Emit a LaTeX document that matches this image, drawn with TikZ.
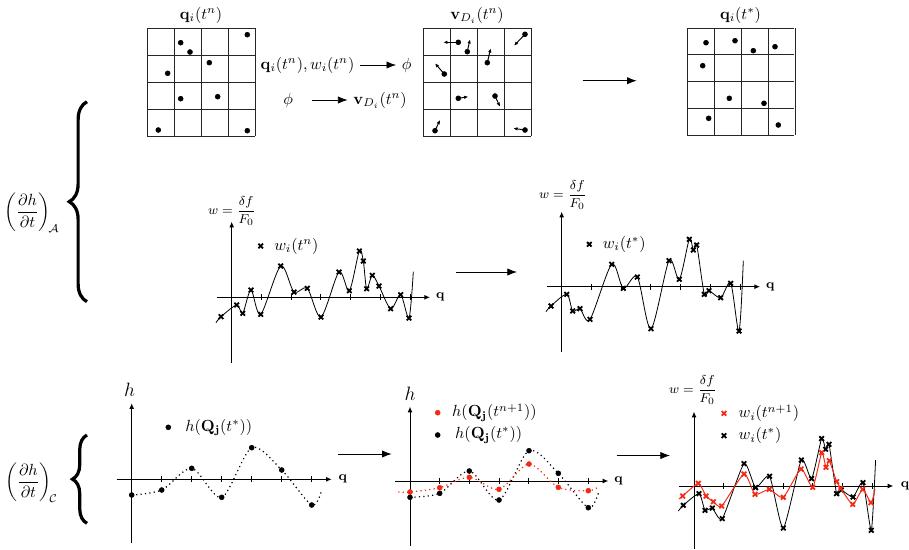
\documentclass[tikz,border=0pt]{standalone}
\usepackage{amsmath,amssymb}
\usepackage{xcolor}
\usepackage{tikz}
\usetikzlibrary{arrows.meta, calc, positioning, plotmarks, decorations.pathreplacing}
\definecolor{ptred}{RGB}{245,40,20}

\tikzset{
  cellgrid/.style={line width=0.6pt, black!85},
  axis/.style={line width=0.55pt, -{Latex[length=3.5pt,width=3pt]}},
  tick/.style={line width=0.5pt},
  wcurve/.style={line width=0.5pt},
  hcurve/.style={line width=0.75pt, dotted},
  xmarks/.style={only marks, mark=x, mark size=2pt, mark options={line width=1.1pt}},
  rxmarks/.style={only marks, mark=x, mark size=2pt, mark options={line width=1.1pt, ptred}},
  dots/.style={only marks, mark=*, mark size=1.5pt},
  rdots/.style={only marks, mark=*, mark size=1.5pt, mark options={ptred}},
  flow/.style={line width=0.5pt, -{Latex[length=6pt,width=4.5pt]}},
  vel/.style={line width=0.6pt, -{Latex[length=2.6pt,width=2.2pt]}},
  bigbrace/.style={decorate, line width=2pt},
  lbl/.style={font=\footnotesize},
}

\begin{document}
\begin{tikzpicture}[x=0.62pt, y=-0.62pt]
  \useasboundingbox (0,0) rectangle (909,549);

  % grids of particles
  \begin{scope}[shift={(147,28)}]
    \foreach \k in {0,...,4} {
      \draw[cellgrid] (27*\k,0) -- (27*\k,108);
      \draw[cellgrid] (0,27*\k) -- (108,27*\k);
    }
    \node (g1) at (54,-13) {$\mathbf{q}_i(t^n)$};
    \draw plot[dots] coordinates {(33.7,14.7) (43,24) (100.3,6.7) (62.3,34.7) (20.7,45.3)
      (33.7,70.7) (70.7,68.7) (11.3,102) (100.3,102.7)};
  \end{scope}

  \node (qw) at (307.5,65) {$\mathbf{q}_i(t^n), w_i(t^n)$};
  \node (phi1) at (406.7,65) {$\phi$};
  \node (phi2) at (288.3,100) {$\phi$};
  \node (vD) at (380,100) {$\mathbf{v}_{D_i}(t^n)$};
  \draw[flow] (qw) -- (phi1);
  \draw[flow, shorten <=8pt] (phi2) -- (vD);

  \begin{scope}[shift={(423,28)}]
    \foreach \k in {0,...,4} {
      \draw[cellgrid] (27*\k,0) -- (27*\k,108);
      \draw[cellgrid] (0,27*\k) -- (108,27*\k);
    }
    \node (g2) at (54,-13) {$\mathbf{v}_{D_i}(t^n)$};
    \foreach \px/\py/\tx/\ty in {35.3/14.3/20.3/14.3, 44.3/23.7/47/11.3, 102/6.3/91/17.7,
        64.3/34.7/67.7/20.3, 21.3/46/12/35.3, 35.3/70.3/45.3/68.7, 72/68/77/78.7,
        12/102.7/17/92, 102/102/90.3/100.3}
      \draw[vel] (\px,\py) -- (\tx,\ty);
    \draw plot[dots] coordinates {(35.3,14.3) (44.3,23.7) (102,6.3) (64.3,34.7) (21.3,46)
      (35.3,70.3) (72,68) (12,102.7) (102,102)};
  \end{scope}

  \coordinate (f1s) at (582.7,80.7);
  \coordinate (f1e) at (636.7,80.7);
  \draw[flow] (f1s) -- (f1e);

  \begin{scope}[shift={(687,28)}]
    \foreach \k in {0,...,4} {
      \draw[cellgrid] (27*\k,0) -- (27*\k,107);
      \draw[cellgrid] (0,26.75*\k) -- (107,26.75*\k);
    }
    \node (g3) at (53.5,-13) {$\mathbf{q}_i(t^*)$};
    \draw plot[dots] coordinates {(19,14.7) (48,12.7) (66.3,22.7) (88,18.7) (15.7,37.7)
      (42.3,70.3) (77,75.3) (21.7,90.3) (91.3,97)};
  \end{scope}

  % advection part
  \node (labA) at (32,213) {$\left(\dfrac{\partial h}{\partial t}\right)_{\!\mathcal{A}}$};
  \coordinate (bAb) at (87,301.7);
  \coordinate (bAt) at (87,101.7);
  \draw[bigbrace, decoration={brace, amplitude=11pt}] (bAb) -- (bAt);

  \begin{scope}[shift={(231.7,297.3)}]
    \draw[axis] (-15,0) -- (198.3,0);
    \draw[axis] (0,65.4) -- (0,-75.6);
    \foreach \k in {1,...,6} \draw[tick] (29.7*\k,-3) -- (29.7*\k,3);
    \node[lbl] (qa1) at (208.5,0) {$\mathbf{q}$};
    \node[lbl] (wa1) at (0.3,-86.3) {$w=\dfrac{\delta f}{F_0}$};
    \draw plot[xmarks] coordinates {(29,-51.3)};
    \node[anchor=west] (la1) at (37,-51.3) {$w_i(t^n)$};
    \draw[wcurve] plot[smooth] coordinates {(-15.7,25.4) (-10.7,19.4) (5,7.7) (11,16)
      (19.3,-7.3) (29,17) (49,-31.3) (62.3,-5.3) (75.6,-9) (89.3,19.7) (107.3,-25.3)
      (117.6,-6.6) (127.6,-46.3) (131.6,-36.3) (135,-8.6) (140.6,-22) (147.3,-11.3)
      (159,11.4) (169,-2.6) (177.3,20.7) (181.6,-25.6)};
    \draw plot[xmarks] coordinates {(-10.7,19.4) (5,7.7) (11,16) (19.3,-7.3) (29,17)
      (49,-31.3) (62.3,-5.3) (75.6,-9) (89.3,19.7) (107.3,-25.3) (117.6,-6.6)
      (127.6,-46.3) (131.6,-36.3) (135,-8.6) (140.6,-22) (147.3,-11.3) (159,11.4)
      (169,-2.6) (177.3,20.7)};
  \end{scope}

  \coordinate (f2s) at (456,272);
  \coordinate (f2e) at (517,272);
  \draw[flow] (f2s) -- (f2e);

  \begin{scope}[shift={(561.7,286.7)}]
    \draw[axis] (-15,0) -- (198.3,0);
    \draw[axis] (0,65) -- (0,-75);
    \foreach \k in {1,...,6} \draw[tick] (29.7*\k,-3) -- (29.7*\k,3);
    \node[lbl] (qa2) at (208.5,0) {$\mathbf{q}$};
    \node[lbl] (wa2) at (1.3,-91.7) {$w=\dfrac{\delta f}{F_0}$};
    \draw plot[xmarks] coordinates {(27.6,-42.4)};
    \node[anchor=west] (la2) at (35.5,-42.4) {$w_i(t^*)$};
    \draw[wcurve] plot[smooth] coordinates {(-15.7,25) (-10.7,19.3) (5,7.6) (11,24.3)
      (18.3,22) (28.3,32.6) (50,-22.4) (61.6,1.6) (75.6,-9.7) (89.3,42) (107.3,-26)
      (117.6,-7.4) (127.6,-47.4) (131.6,-36.7) (135,-41.7) (142.6,7.6) (147.3,4)
      (159,11) (169,-3.4) (177.3,44.3) (181.6,-26)};
    \draw plot[xmarks] coordinates {(-10.7,19.3) (5,7.6) (11,24.3) (18.3,22) (28.3,32.6)
      (50,-22.4) (61.6,1.6) (75.6,-9.7) (89.3,42) (107.3,-26) (117.6,-7.4)
      (127.6,-47.4) (131.6,-36.7) (135,-41.7) (142.6,7.6) (147.3,4) (159,11)
      (169,-3.4) (177.3,44.3)};
  \end{scope}

  % collision part
  \node (labC) at (31.5,483) {$\left(\dfrac{\partial h}{\partial t}\right)_{\!\mathcal{C}}$};
  \coordinate (bCb) at (87,523.3);
  \coordinate (bCt) at (87,435);
  \draw[bigbrace, decoration={brace, amplitude=9pt}] (bCb) -- (bCt);

  \begin{scope}[shift={(131.7,479.3)}]
    \draw[axis] (-15,0) -- (200,0);
    \draw[axis] (0,64) -- (0,-76);
    \foreach \k in {1,...,6} \draw[tick] (30*\k,-3) -- (30*\k,3);
    \node[lbl] (qb1) at (211,0) {$\mathbf{q}$};
    \node[font=\large] (hb1) at (-2,-89.3) {$h$};
    \draw plot[dots] coordinates {(36.6,-52)};
    \node[anchor=west] (lb1) at (48,-52) {$h(\mathbf{Q_j}(t^*))$};
    \draw[hcurve] plot[smooth] coordinates {(0,15.7) (30,10.7) (60,-11) (90,18)
      (120,-31.6) (150,-9.3) (180,25.7) (190,10.7)};
    \draw plot[dots] coordinates {(0,15.7) (30,10.7) (60,-11) (90,18) (120,-31.6)
      (150,-9.3) (180,25.7)};
  \end{scope}

  \coordinate (f3s) at (338.3,454);
  \coordinate (f3e) at (391.7,454);
  \draw[flow] (f3s) -- (f3e);

  \begin{scope}[shift={(410,481)}]
    \draw[axis] (-15,0) -- (198.3,0);
    \draw[axis] (0,65) -- (0,-74.3);
    \foreach \k in {1,...,6} \draw[tick] (29.7*\k,-3) -- (29.7*\k,3);
    \node[lbl] (qb2) at (208.5,0) {$\mathbf{q}$};
    \node[font=\large] (hb2) at (0,-87) {$h$};
    \draw plot[rdots] coordinates {(27.7,-68.3)};
    \node[anchor=west] (lb2) at (36.5,-68.3) {$h(\mathbf{Q_j}(t^{n+1}))$};
    \draw plot[dots] coordinates {(27.7,-46)};
    \node[anchor=west] (lb3) at (39.5,-46) {$h(\mathbf{Q_j}(t^*))$};
    \draw[hcurve] plot[smooth] coordinates {(0,16.3) (29.7,12.3) (59.3,-10) (89,19)
      (119,-30.3) (148.3,-7.7) (178.3,26.7) (189,10)};
    \draw[hcurve, ptred] plot[smooth] coordinates {(-11.7,11) (0,11) (29.7,6.7)
      (59.3,-3.7) (89,8.3) (119,-17) (148.3,6.3) (178.3,9.7) (188,6)};
    \draw plot[dots] coordinates {(0,16.3) (29.7,12.3) (59.3,-10) (89,19) (119,-30.3)
      (148.3,-7.7) (178.3,26.7)};
    \draw plot[rdots] coordinates {(0,11) (29.7,6.7) (59.3,-3.7) (89,8.3) (119,-17)
      (148.3,6.3) (178.3,9.7)};
  \end{scope}

  \coordinate (f4s) at (616.7,455.5);
  \coordinate (f4e) at (670,455.5);
  \draw[flow] (f4s) -- (f4e);

  \begin{scope}[shift={(694,486)}]
    \draw[axis] (-14.7,0) -- (199.3,0);
    \draw[axis] (0,62.5) -- (0,-74.3);
    \foreach \k in {1,...,6} \draw[tick] (29.7*\k,-3) -- (29.7*\k,3);
    \node[lbl] (qb3) at (211,0) {$\mathbf{q}$};
    \node[lbl] (wb3) at (-1,-96) {$w=\dfrac{\delta f}{F_0}$};
    \draw plot[rxmarks] coordinates {(30,-72.7)};
    \node[anchor=west] (lb4) at (39,-72.7) {$w_i(t^{n+1})$};
    \draw plot[xmarks] coordinates {(30,-50.3)};
    \node[anchor=west] (lb5) at (39,-50.3) {$w_i(t^*)$};
    \draw[wcurve] plot[smooth, tension=0.35] coordinates {(-15.7,25) (-10.7,19.3) (5,7.6)
      (11,24.3) (18.3,22) (28.3,32.6) (50,-22.4) (61.6,1.6) (75.6,-9.7) (89.3,42)
      (107.3,-26) (117.6,-7.4) (127.6,-47.4) (131.6,-36.7) (135,-41.7) (142.6,7.6)
      (147.3,4) (159,11) (169,-3.4) (177.3,44.3) (181.6,-26)};
    \draw plot[xmarks] coordinates {(-10.7,19.3) (5,7.6) (11,24.3) (18.3,22) (28.3,32.6)
      (50,-22.4) (61.6,1.6) (75.6,-9.7) (89.3,42) (107.3,-26) (117.6,-7.4)
      (127.6,-47.4) (131.6,-36.7) (135,-41.7) (142.6,7.6) (147.3,4) (159,11)
      (169,-3.4) (177.3,44.3)};
    \draw[wcurve, ptred, line width=0.6pt] plot[smooth, tension=0.35] coordinates {(-15,13)
      (-11.3,10) (4.3,-2.7) (12,10) (19.3,15.7) (27.7,20) (50,-12) (61,8.3) (75.3,3.3)
      (89.3,11.3) (107,-17) (118.7,1.3) (127.7,-33.3) (132,-18.7) (135.3,-25.3)
      (142.7,-4.3) (146.7,2.3) (158.7,18.3) (168.7,3.3) (177,16.7) (181,3.3)};
    \draw plot[rxmarks] coordinates {(-11.3,10) (4.3,-2.7) (12,10)
      (19.3,15.7) (27.7,20) (50,-12) (61,8.3) (75.3,3.3) (89.3,11.3) (107,-17)
      (118.7,1.3) (127.7,-33.3) (132,-18.7) (135.3,-25.3) (142.7,-4.3) (146.7,2.3)
      (158.7,18.3) (168.7,3.3) (177,16.7)};
  \end{scope}
\end{tikzpicture}
\end{document}
